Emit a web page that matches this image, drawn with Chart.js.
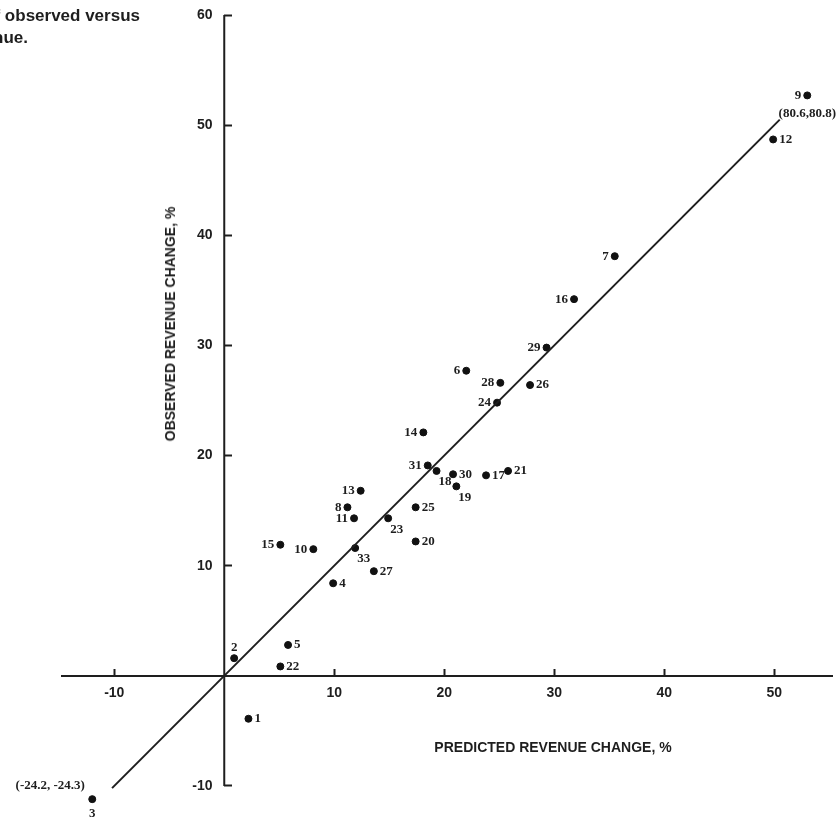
<!DOCTYPE html>
<html>
<head>
<meta charset="utf-8">
<script src="https://cdn.jsdelivr.net/npm/chart.js@4.4.0/dist/chart.umd.min.js"></script>
<style>
    html, body { margin: 0; padding: 0; background: #fff; }
    #wrap { position: relative; width: 838px; height: 821px; overflow: hidden; }
    .txt { position: absolute; font-family: "Liberation Sans", Arial, sans-serif; font-weight: bold; color: #1e1e1e; white-space: nowrap; }
</style>
</head>
<body>
<div id="wrap">
    <canvas id="fig"></canvas>
    <div class="txt" style="right:698px; top:6px; font-size:17px; line-height:20px;">Comparison of observed versus</div>
    <div class="txt" style="right:810px; top:28px; font-size:17px; line-height:20px;">predicted revenue.</div>
    <div class="txt" style="left:170px; top:324px; font-size:14px; transform:translate(-50%,-50%) rotate(-90deg);">OBSERVED REVENUE CHANGE, %</div>
    <div class="txt" style="left:553px; top:747px; font-size:14px; transform:translate(-50%,-50%);">PREDICTED REVENUE CHANGE, %</div>
</div>
<script>
// points: id, predicted revenue change (x), observed revenue change (y)
const ids       = [1, 2, 3, 4, 5, 6, 7, 8, 9, 10, 11, 12, 13, 14, 15, 16, 17, 18, 19, 20, 21, 22, 23, 24, 25, 26, 27, 28, 29, 30, 31, 33];
const predicted = [2.2, 0.9, -12.0, 9.9, 5.8, 22.0, 35.5, 11.2, 53.0, 8.1, 11.8, 49.9, 12.4, 18.1, 5.1, 31.8, 23.8, 19.3, 21.1, 17.4, 25.8, 5.1, 14.9, 24.8, 17.4, 27.8, 13.6, 25.1, 29.3, 20.8, 18.5, 11.9];
const observed  = [-3.9, 1.6, -11.2, 8.4, 2.8, 27.7, 38.1, 15.3, 52.7, 11.5, 14.3, 48.7, 16.8, 22.1, 11.9, 34.2, 18.2, 18.6, 17.2, 12.2, 18.6, 0.85, 14.3, 24.8, 15.3, 26.4, 9.5, 26.6, 29.8, 18.3, 19.1, 11.6];

// true values of the two points drawn at the edge of the plot
const offscaleIds   = [3, 9];
const offscaleNotes = ['(-24.2, -24.3)', '(80.6,80.8)'];

// the 45-degree line
const lineX = [-10.2, 50.5];
const lineY = [-10.2, 50.5];

// vertical axis runs from -10 to 60 only
const yAxisSpan = [-10, 60];

const xTicks = [-10, 10, 20, 30, 40, 50];
const yTicks = [-10, 10, 20, 30, 40, 50, 60];

// where each number sits next to its dot
const place = {
    1: 'r', 2: 't', 3: 'b', 4: 'r', 5: 'r', 6: 'l', 7: 'l', 8: 'l', 9: 'l', 10: 'l',
    11: 'l', 12: 'r', 13: 'l', 14: 'l', 15: 'l', 16: 'l', 17: 'r', 18: 'br', 19: 'br', 20: 'r',
    21: 'r', 22: 'r', 23: 'br', 24: 'l', 25: 'r', 26: 'r', 27: 'r', 28: 'l', 29: 'l', 30: 'r',
    31: 'l', 33: 'br'
};

const INK = '#1e1e1e';

const pointLabels = {
    id: 'pointLabels',
    afterDatasetsDraw(chart) {
        const ctx = chart.ctx;
        const meta = chart.getDatasetMeta(2);
        ctx.save();
        ctx.fillStyle = INK;
        ctx.font = 'bold 13px "Liberation Serif", "Times New Roman", serif';
        ctx.textBaseline = 'middle';
        meta.data.forEach((pt, i) => {
            const id = ids[i];
            const p = place[id];
            let x = pt.x, y = pt.y;
            if (p === 'r') { ctx.textAlign = 'left'; x += 6; }
            else if (p === 'l') { ctx.textAlign = 'right'; x -= 6; }
            else if (p === 't') { ctx.textAlign = 'center'; y -= 11; }
            else if (p === 'b') { ctx.textAlign = 'center'; y += 14; }
            else { ctx.textAlign = 'left'; x += 2; y += 11; }
            ctx.fillText(String(id), x, y);
            const k = offscaleIds.indexOf(id);
            if (k >= 0) {
                ctx.textAlign = 'center';
                if (id === 3) ctx.fillText(offscaleNotes[k], x - 42, pt.y - 14);
                else ctx.fillText(offscaleNotes[k], pt.x, pt.y + 18);
            }
        });
        ctx.restore();
    }
};

const tickFont = { family: '"Liberation Sans", Arial, sans-serif', weight: 'bold', size: 14 };

function noPad(s) {
    s.paddingTop = 0;
    s.paddingBottom = 0;
    s.paddingLeft = 0;
    s.paddingRight = 0;
}

new Chart(document.getElementById('fig'), {
    type: 'scatter',
    data: {
        datasets: [{
            type: 'line',
            data: yAxisSpan.map(v => ({ x: 0, y: v })),
            borderColor: INK,
            borderWidth: 2,
            pointRadius: 0,
            fill: false
        }, {
            type: 'line',
            data: lineX.map((x, i) => ({ x: x, y: lineY[i] })),
            borderColor: INK,
            borderWidth: 2,
            pointRadius: 0,
            fill: false
        }, {
            data: predicted.map((x, i) => ({ x: x, y: observed[i] })),
            backgroundColor: '#111',
            borderColor: '#111',
            pointRadius: 3.5
        }]
    },
    options: {
        responsive: true,
        maintainAspectRatio: false,
        animation: false,
        layout: { padding: { left: 62, right: 6, top: 15, bottom: 0.8 } },
        plugins: {
            legend: { display: false },
            tooltip: { enabled: false }
        },
        scales: {
            x: {
                type: 'linear',
                position: { y: 0 },
                min: -14.75,
                max: 55.25,
                grid: { drawOnChartArea: false, tickLength: -8, color: INK, tickWidth: 2 },
                border: { color: INK, width: 2 },
                afterFit: noPad,
                afterBuildTicks: s => { s.ticks = xTicks.map(v => ({ value: v })); },
                ticks: { color: INK, font: tickFont, padding: 17, maxRotation: 0 }
            },
            y: {
                type: 'linear',
                position: { x: 0 },
                min: -12.73,
                max: 60,
                grid: { drawOnChartArea: false, tickLength: -8, color: INK, tickWidth: 2 },
                border: { display: false },
                afterFit: noPad,
                afterBuildTicks: s => { s.ticks = yTicks.map(v => ({ value: v })); },
                ticks: { color: INK, font: tickFont, padding: 12, callback: v => v + '   ' }
            }
        }
    },
    plugins: [pointLabels]
});
</script>
</body>
</html>
